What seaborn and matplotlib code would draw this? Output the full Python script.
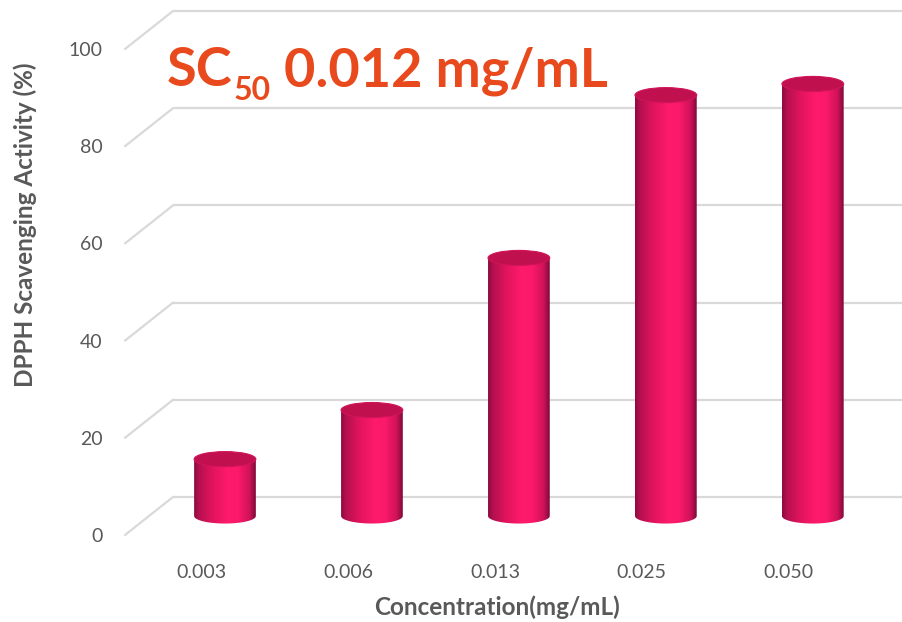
import numpy as np
import matplotlib
matplotlib.use("Agg")
import matplotlib.pyplot as plt
import seaborn as sns
from matplotlib.colors import LinearSegmentedColormap
from matplotlib.patches import Ellipse, PathPatch
from matplotlib.path import Path
from matplotlib.transforms import ScaledTranslation

# ---- data ----
concentrations = ["0.003", "0.006", "0.013", "0.025", "0.050"]
activity = [11.7, 21.8, 53.1, 86.6, 88.9]
y_ticks = [0, 20, 40, 60, 80, 100]
y_tick_labels = ["0", "20", "40", "60", "80", "100"]
title_main = "SC"
title_sub = "50"
title_rest = "0.012 mg/mL"
x_label = "Concentration(mg/mL)"
y_label = "DPPH Scavenging Activity (%)"

sns.set_theme(style="white")
plt.rcParams["font.family"] = ["Lato", "DejaVu Sans"]

GREY = "#595959"
GRID = "#d9d9d9"
TITLE_C = "#e8491d"

# axes: value 0 at y=516px, 100 at y=30px; extra room below for cylinder bases
YL = (-4, 100)
PX_PER_UNIT = 4.86
bottom_px = 516 + (-YL[0]) * PX_PER_UNIT
fig = plt.figure(figsize=(9.03, 6.22), dpi=100)
ax = fig.add_axes([149 / 903, (622 - bottom_px) / 622, 752 / 903,
                   (bottom_px - 30) / 622])

sns.barplot(x=concentrations, y=activity, width=0.42, ax=ax, color="#f0145f")

XL = (-0.517, 4.6)
ax.set_xlim(*XL)
ax.set_ylim(*YL)
ax.set_autoscale_on(False)

back = ax.transData + ScaledTranslation(0.24, 0.19, fig.dpi_scale_trans)
front = ax.transData + ScaledTranslation(-0.24, -0.19, fig.dpi_scale_trans)

# back wall grid lines + side diagonals
inv = fig.transFigure.inverted()
for v in y_ticks:
    ax.plot([XL[0], 6], [v, v], color=GRID, lw=1.6, transform=back,
            clip_on=False, zorder=0, solid_capstyle="butt")
    fb = inv.transform(back.transform((XL[0], v)))
    ff = inv.transform(front.transform((XL[0], v)))
    ax.plot([ff[0], fb[0]], [ff[1], fb[1]], color=GRID, lw=1.6,
            transform=fig.transFigure, clip_on=False, zorder=0)

# cylinder styling
cmap = LinearSegmentedColormap.from_list("cyl", [
    (0.00, "#8a0b3d"), (0.08, "#b51050"), (0.30, "#e2145d"),
    (0.55, "#fe1a6c"), (0.72, "#fa196a"), (0.90, "#cf1259"),
    (1.00, "#7c0a37")])
grad = np.linspace(0, 1, 256).reshape(1, -1)
ELL_H = 3.1

bars = list(ax.patches)
for p in bars:
    x0, w, h = p.get_x(), p.get_width(), p.get_height()
    cx = x0 + w / 2
    p.set_visible(False)
    t = np.linspace(np.pi, 2 * np.pi, 60)
    arc = np.column_stack([cx + (w / 2) * np.cos(t), (ELL_H / 2) * np.sin(t)])
    verts = np.vstack([[[x0, h], [x0, 0]], arc, [[x0 + w, 0], [x0 + w, h], [x0, h]]])
    codes = [Path.MOVETO] + [Path.LINETO] * (len(verts) - 2) + [Path.CLOSEPOLY]
    clip = PathPatch(Path(verts, codes), transform=ax.transData,
                     facecolor="none", edgecolor="none")
    im = ax.imshow(grad, extent=[x0, x0 + w, -ELL_H / 2 - 0.2, h], aspect="auto",
                   cmap=cmap, zorder=2, interpolation="bicubic")
    im.set_clip_path(clip)
    top = Ellipse((cx, h), w, ELL_H, facecolor="#c0114e", edgecolor="#d2135a",
                  lw=0.8, zorder=3, clip_on=False)
    ax.add_patch(top)

ax.set_xlim(*XL)
ax.set_ylim(*YL)
for s in ax.spines.values():
    s.set_visible(False)
ax.grid(False)
ax.set_facecolor("none")

ax.set_yticks(y_ticks)
ax.set_yticklabels(y_tick_labels)
ax.tick_params(axis="y", length=0, pad=16, labelsize=14, labelcolor=GREY)
ax.tick_params(axis="x", length=0, pad=7, labelsize=14, labelcolor=GREY)
for lab in ax.get_yticklabels():
    lab.set_transform(lab.get_transform() + ScaledTranslation(-0.24, -0.19, fig.dpi_scale_trans))
for lab in ax.get_xticklabels():
    lab.set_transform(lab.get_transform() + ScaledTranslation(-0.24, -0.19, fig.dpi_scale_trans))

ax.set_xlabel(x_label, fontsize=17.5, fontweight="bold", color=GREY)
ax.xaxis.set_label_coords(497 / 903, 1 - 607 / 622, transform=fig.transFigure)
ax.xaxis.label.set_va("center")
ax.set_ylabel(y_label, fontsize=17.5, fontweight="bold", color=GREY)
ax.yaxis.set_label_coords(25 / 903, 1 - 225 / 622, transform=fig.transFigure)
ax.yaxis.label.set_va("center")

# title SC50 0.012 mg/mL
base_y = 1 - 86 / 622
sub_y = 1 - 100 / 622
t1 = fig.text(167 / 903, base_y, title_main, fontsize=39, color=TITLE_C,
              fontweight="bold", va="baseline", ha="left")
t2 = ax.annotate(title_sub, xy=(1, sub_y), xycoords=(t1, "figure fraction"),
                 xytext=(1, 0), textcoords="offset points", fontsize=23,
                 color=TITLE_C, fontweight="bold", va="baseline", ha="left",
                 annotation_clip=False)
t3 = ax.annotate(title_rest, xy=(1, base_y), xycoords=(t2, "figure fraction"),
                 xytext=(9, 0), textcoords="offset points", fontsize=39,
                 color=TITLE_C, fontweight="bold", va="baseline", ha="left",
                 annotation_clip=False)

fig.savefig("out.png", dpi=100, facecolor="white")
